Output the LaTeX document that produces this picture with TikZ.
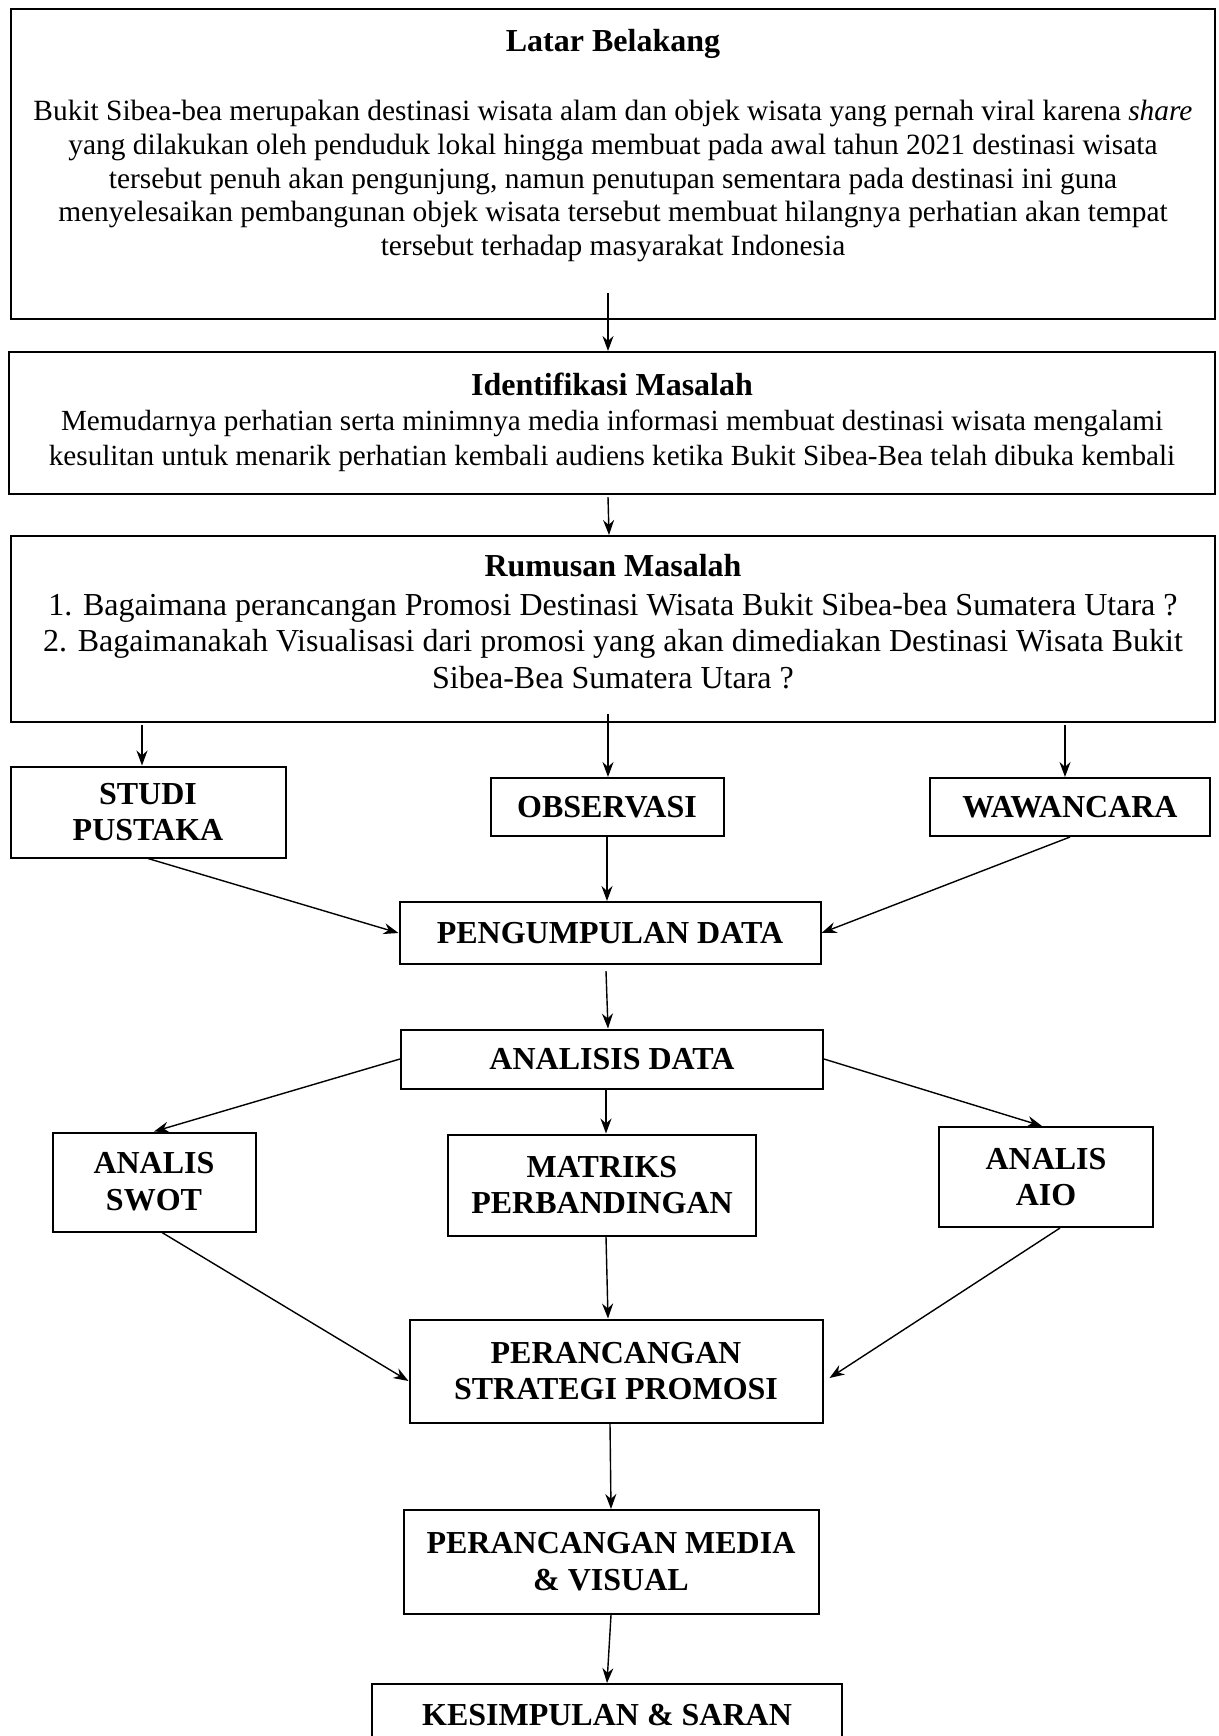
\documentclass[tikz,border=0pt]{standalone}
\usepackage{fontspec}
\setmainfont{Liberation Serif}
\usetikzlibrary{arrows.meta}

\tikzset{
  box/.style={draw=black,line width=1pt,inner sep=0pt,align=center,font=\fontsize{16}{18.4}\selectfont\bfseries},
  ttl/.style={inner sep=0pt,font=\fontsize{16}{18.4}\selectfont\bfseries},
  txt/.style={inner sep=0pt,align=center,font=\fontsize{14.7}{16.8}\selectfont},
  arr/.style={-{Stealth[length=7.5pt,width=5.5pt]},line width=0.7pt}
}

\begin{document}
\begin{tikzpicture}[x=0.5pt,y=-0.5pt]
  \useasboundingbox (0,0) rectangle (1219,1736);
  \clip (0,0) rectangle (1219,1736);

  % boxes on top
  \node[box,minimum width=602pt,minimum height=155pt] (latar) at (613,164) {};
  \node[ttl] (latarT) at (613,44) {Latar Belakang};
  \node[txt] (latarB) at (613,181) {Bukit Sibea-bea merupakan destinasi wisata alam dan objek wisata yang pernah viral karena \textit{share}\\
    yang dilakukan oleh penduduk lokal hingga membuat pada awal tahun 2021 destinasi wisata\\
    tersebut penuh akan pengunjung, namun penutupan sementara pada destinasi ini guna\\
    menyelesaikan pembangunan objek wisata tersebut membuat hilangnya perhatian akan tempat\\
    tersebut terhadap masyarakat Indonesia};

  \node[box,minimum width=603pt,minimum height=71pt] (ident) at (612,423) {};
  \node[ttl] (identT) at (612,384) {Identifikasi Masalah};
  \node[txt,font=\fontsize{14.6}{17.5}\selectfont] (identB) at (612,441) {Memudarnya perhatian serta minimnya media informasi membuat destinasi wisata mengalami\\
    kesulitan untuk menarik perhatian kembali audiens ketika Bukit Sibea-Bea telah dibuka kembali};

  \node[box,minimum width=602pt,minimum height=93pt] (rumusan) at (613,629) {};
  \node[ttl] (rumusanT) at (613,566) {Rumusan Masalah};
  \node[txt,font=\fontsize{16}{18.3}\selectfont] (rumusanB) at (613,641) {1. Bagaimana perancangan Promosi Destinasi Wisata Bukit Sibea-bea Sumatera Utara ?\\
    2. Bagaimanakah Visualisasi dari promosi yang akan dimediakan Destinasi Wisata Bukit\\
    Sibea-Bea Sumatera Utara ?};

  % data collection
  \node[box,minimum width=137.5pt,minimum height=45.5pt] (studi) at (148,812) {STUDI\\PUSTAKA};
  \node[box,minimum width=116.5pt,minimum height=29pt] (obs) at (607,807) {OBSERVASI};
  \node[box,minimum width=140pt,minimum height=29pt] (waw) at (1070,807) {WAWANCARA};
  \node[box,minimum width=210.5pt,minimum height=31pt] (kumpul) at (610,933) {PENGUMPULAN DATA};
  \node[box,minimum width=211pt,minimum height=29.5pt] (analisis) at (612,1059) {ANALISIS DATA};

  % analysis
  \node[box,minimum width=101.5pt,minimum height=49.5pt] (swot) at (154,1182) {ANALIS\\SWOT};
  \node[box,minimum width=154pt,minimum height=50.5pt] (matriks) at (602,1185) {MATRIKS\\PERBANDINGAN};
  \node[box,minimum width=107pt,minimum height=50pt] (aio) at (1046,1177) {ANALIS\\AIO};
  \node[box,minimum width=206.5pt,minimum height=51.5pt] (strategi) at (616,1371) {PERANCANGAN\\STRATEGI PROMOSI};
  \node[box,minimum width=207.5pt,minimum height=52pt] (media) at (611,1562) {PERANCANGAN MEDIA\\\& VISUAL};
  \node[box,minimum width=235pt,minimum height=31pt] (simpul) at (607,1715) {KESIMPULAN \& SARAN};

  % free ends
  \coordinate (l0) at (608,293);
  \coordinate (r1) at (142,725);
  \coordinate (r2) at (608,714);
  \coordinate (r3) at (1065,725);

  % arrows
  \draw[arr] (l0) -- (ident.north -| l0);
  \draw[arr] ([xshift=-2pt,yshift=-1pt]ident.south) -- ([xshift=-2pt]rumusan.north);
  \draw[arr] (r1) -- (studi.north -| r1);
  \draw[arr] (r2) -- (obs.north -| r2);
  \draw[arr] (r3) -- (waw.north -| r3);
  \draw[arr] (studi.south) -- (kumpul.west);
  \draw[arr] (obs.south) -- (obs.south |- kumpul.north);
  \draw[arr] (waw.south) -- (kumpul.east);
  \draw[arr] ([xshift=-2pt,yshift=-3pt]kumpul.south) -- ([xshift=-2pt]analisis.north);
  \draw[arr] (analisis.west) -- (swot.north);
  \draw[arr] ([xshift=-3pt]analisis.south) -- ([xshift=2pt]matriks.north);
  \draw[arr] (analisis.east) -- ([xshift=-2pt]aio.north);
  \draw[arr] ([xshift=4pt]swot.south) -- ([yshift=-5pt]strategi.west);
  \draw[arr] ([xshift=2pt]matriks.south) -- ([xshift=-4pt]strategi.north);
  \draw[arr] ([xshift=7pt]aio.south) -- ([xshift=3pt,yshift=-3.5pt]strategi.east);
  \draw[arr] ([xshift=-3pt]strategi.south) -- (media.north);
  \draw[arr] (media.south) -- (simpul.north);
\end{tikzpicture}
\end{document}
